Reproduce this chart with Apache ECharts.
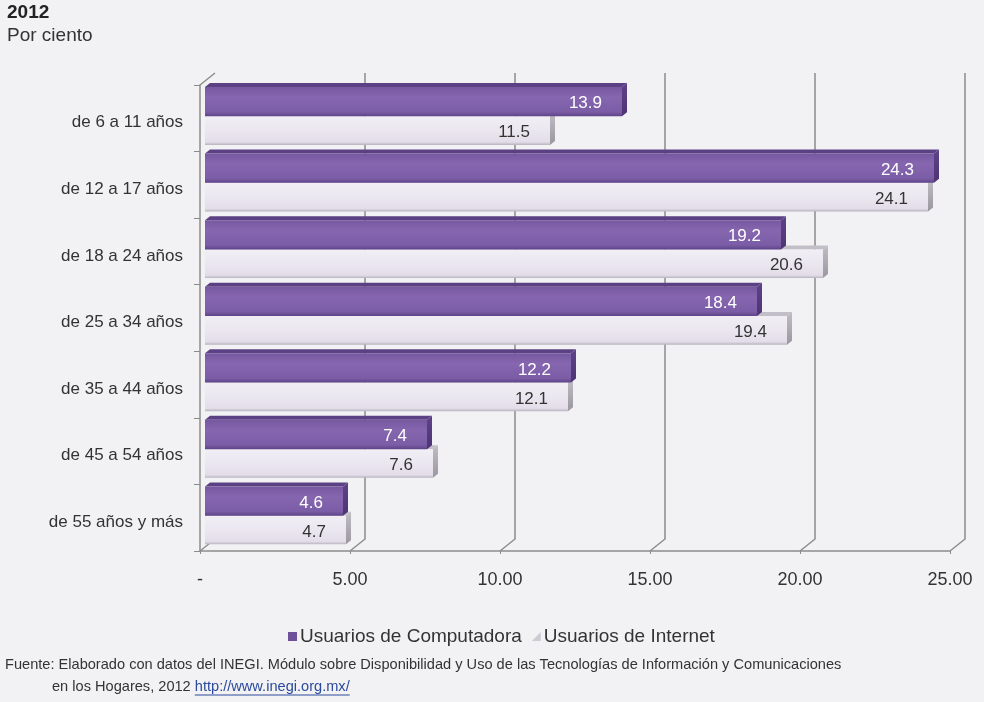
<!DOCTYPE html>
<html>
<head>
<meta charset="utf-8">
<script src="https://cdn.jsdelivr.net/npm/echarts@6/dist/echarts.min.js"></script>
<style>
  html, body { margin: 0; padding: 0; background: #f2f2f4; }
  #chart { width: 984px; height: 702px; }
</style>
</head>
<body>
<div id="chart"></div>
<script>
// Grupos de edad y porcentaje de usuarios (2012)
const categories = [
  'de 6 a 11 años', 'de 12 a 17 años', 'de 18 a 24 años', 'de 25 a 34 años',
  'de 35 a 44 años', 'de 45 a 54 años', 'de 55 años y más'
];
const computadora = [13.9, 24.3, 19.2, 18.4, 12.2, 7.4, 4.6];
const internet    = [11.5, 24.1, 20.6, 19.4, 12.1, 7.6, 4.7];
const xTicks = [0, 5, 10, 15, 20, 25];
const seriesNames = ['Usuarios de Computadora', 'Usuarios de Internet'];

const FONT = '"Liberation Sans", Arial, sans-serif';
const AXIS_COLOR = '#8c8c8c';
// perspective offsets of the 3D look
const WALL_DX = 15, WALL_DY = 12;   // back wall relative to the front plane
const BAR_SHIFT = 5;                // bars sit in the middle of the depth
const CAP_DX = 5, CAP_DY = 4;       // visible depth of each bar

const styles = [
  { // computadora
    front: new echarts.graphic.LinearGradient(0, 0, 0, 1, [
      { offset: 0, color: '#7658a0' }, { offset: 0.35, color: '#8566af' },
      { offset: 0.85, color: '#7b5ca6' }, { offset: 1, color: '#5f4488' }
    ]),
    top: '#5b4083',
    cap: new echarts.graphic.LinearGradient(0, 0, 0, 1, [
      { offset: 0, color: '#5e4287' }, { offset: 1, color: '#4d3473' }
    ]),
    label: '#ffffff',
    band: [0.03, 0.47]
  },
  { // internet
    front: new echarts.graphic.LinearGradient(0, 0, 0, 1, [
      { offset: 0, color: '#f1eef5' }, { offset: 0.5, color: '#ebe7f0' },
      { offset: 0.9, color: '#e2dde8' }, { offset: 1, color: '#b9b5bf' }
    ]),
    top: '#c3bfc8',
    cap: new echarts.graphic.LinearGradient(0, 0, 0, 1, [
      { offset: 0, color: '#c0bdc5' }, { offset: 1, color: '#9a97a0' }
    ]),
    label: '#333333',
    band: [0.47, 0.90]
  }
];

function barRenderer(kind) {
  const st = styles[kind];
  return function (params, api) {
    const v = api.value(0), c = api.value(1);
    const band = api.size([0, 1])[1];
    const p0 = api.coord([0, c]);
    const p1 = api.coord([v, c]);
    const bandTop = p0[1] - band / 2;
    const x0 = p0[0] + BAR_SHIFT, x1 = p1[0] + BAR_SHIFT;
    const y0 = bandTop + band * st.band[0];
    const y1 = bandTop + band * st.band[1];
    return {
      type: 'group',
      children: [
        { type: 'polygon', shape: { points: [[x0, y0], [x1, y0], [x1 + CAP_DX, y0 - CAP_DY], [x0 + CAP_DX, y0 - CAP_DY]] },
          style: { fill: st.top } },
        { type: 'polygon', shape: { points: [[x1, y0], [x1 + CAP_DX, y0 - CAP_DY], [x1 + CAP_DX, y1 - CAP_DY], [x1, y1]] },
          style: { fill: st.cap } },
        { type: 'rect', shape: { x: x0, y: y0, width: x1 - x0, height: y1 - y0 },
          style: { fill: st.front } },
        { type: 'text', z2: 10,
          style: { text: v.toFixed(1), x: x1 - 20, y: (y0 + y1) / 2 + 2,
                   align: 'right', verticalAlign: 'middle',
                   fill: st.label, font: '17px ' + FONT } }
      ]
    };
  };
}

function wallRenderer(params, api) {
  const cs = params.coordSys;
  const x = api.coord([api.value(0), 0])[0];
  const bottom = cs.y + cs.height, top = cs.y;
  const line = { stroke: AXIS_COLOR, lineWidth: 1.5, fill: null };
  if (api.value(0) === 0) {
    return { type: 'group', children: [
      { type: 'polyline', shape: { points: [[x, top], [x + WALL_DX, top - WALL_DY]] }, style: line },
      { type: 'polyline', shape: { points: [[x, bottom], [x + WALL_DX, bottom - WALL_DY]] }, style: line }
    ] };
  }
  return { type: 'polyline',
           shape: { points: [[x, bottom], [x + WALL_DX, bottom - WALL_DY], [x + WALL_DX, top - WALL_DY]] },
           style: line };
}

// footer text measurement for the underlined link
const measureCtx = document.createElement('canvas').getContext('2d');
function textWidth(str, font) { measureCtx.font = font; return measureCtx.measureText(str).width; }
const FOOT_FONT = '14.6px ' + FONT;
const footLine1 = 'Fuente: Elaborado con datos del INEGI. Módulo sobre Disponibilidad y Uso de las Tecnologías de Información y Comunicaciones';
const footLine2 = 'en los Hogares, 2012 ';
const footLink = 'http://www.inegi.org.mx/';
const line2X = 52, line2Y = 679;
const linkX = line2X + textWidth(footLine2, FOOT_FONT);
const linkW = textWidth(footLink, FOOT_FONT);

const chart = echarts.init(document.getElementById('chart'), null, { renderer: 'canvas' });
chart.setOption({
  backgroundColor: '#f2f2f4',
  animation: false,
  textStyle: { fontFamily: FONT },
  grid: { left: 200, right: 34, top: 85, bottom: 151, containLabel: false },
  xAxis: {
    type: 'value', min: 0, max: 25, interval: 5,
    axisLine: { show: true, lineStyle: { color: AXIS_COLOR, width: 1.5 } },
    axisTick: { show: true, length: 3, lineStyle: { color: AXIS_COLOR } },
    splitLine: { show: false },
    axisLabel: { margin: 20, fontSize: 18, color: '#333',
                 formatter: v => (v === 0 ? '-' : v.toFixed(2)) }
  },
  yAxis: {
    type: 'category', data: categories, inverse: true,
    axisLine: { show: true, lineStyle: { color: AXIS_COLOR, width: 1.5 } },
    axisTick: { show: true, length: 6, lineStyle: { color: AXIS_COLOR } },
    axisLabel: {
      margin: 17, color: '#333',
      formatter: v => '{c|' + v + '}',
      rich: { c: { fontSize: 17, color: '#333', fontFamily: FONT, padding: [9, 0, 0, 0] } }
    }
  },
  legend: {
    left: 283, top: 622, itemWidth: 9, itemHeight: 9, itemGap: 10,
    textStyle: { fontSize: 19, color: '#333', padding: [0, 0, 0, -2] },
    data: [
      { name: seriesNames[0], icon: 'rect' },
      { name: seriesNames[1], icon: 'path://M10,0L10,10L0,10Z' }
    ]
  },
  graphic: [
    { type: 'text', left: 7, top: 3, style: { text: '2012', font: 'bold 19px ' + FONT, fill: '#222' } },
    { type: 'text', left: 7, top: 26, style: { text: 'Por ciento', font: '19px ' + FONT, fill: '#333' } },
    { type: 'text', left: 5, top: 657, style: { text: footLine1, font: FOOT_FONT, fill: '#333' } },
    { type: 'text', left: line2X, top: line2Y, style: { text: footLine2, font: FOOT_FONT, fill: '#333' } },
    { type: 'text', left: linkX, top: line2Y, style: { text: footLink, font: FOOT_FONT, fill: '#2b4a9b' } },
    { type: 'line', shape: { x1: linkX, y1: line2Y + 16, x2: linkX + linkW, y2: line2Y + 16 },
      style: { stroke: '#2b4a9b', lineWidth: 1 } }
  ],
  series: [
    { type: 'custom', name: 'wall', silent: true, z: 1,
      data: xTicks.map(v => [v, 0]), encode: { x: 0, y: 1 },
      renderItem: wallRenderer },
    { type: 'custom', name: seriesNames[1], z: 2,
      itemStyle: { color: '#cfcbd5' },
      data: internet.map((v, i) => [v, i]), encode: { x: 0, y: 1 },
      renderItem: barRenderer(1) },
    { type: 'custom', name: seriesNames[0], z: 3,
      itemStyle: { color: '#6e5199' },
      data: computadora.map((v, i) => [v, i]), encode: { x: 0, y: 1 },
      renderItem: barRenderer(0) }
  ]
});
</script>
</body>
</html>
